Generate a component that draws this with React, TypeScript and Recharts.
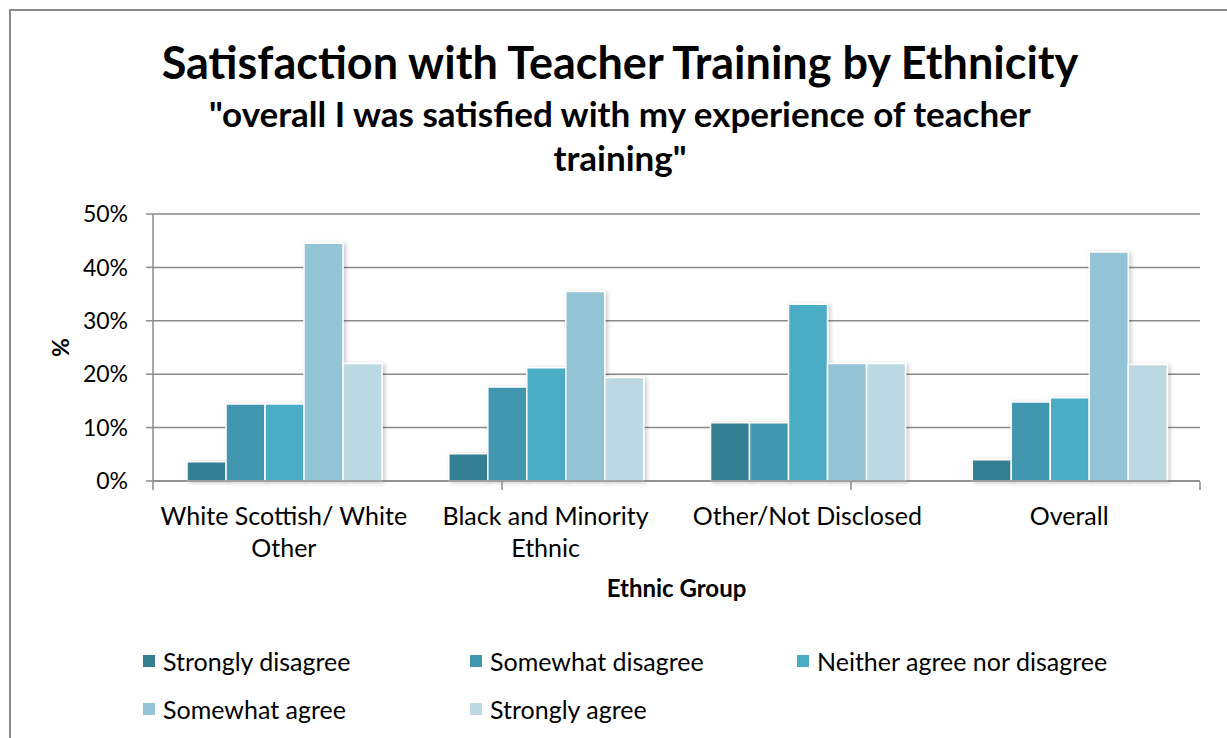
import { BarChart, Bar, XAxis, YAxis, CartesianGrid } from "recharts";

// categories and their wrapped tick lines
const categories = [
  "White Scottish/ White Other",
  "Black and Minority Ethnic",
  "Other/Not Disclosed",
  "Overall",
];
const categoryLines = [
  ["White Scottish/ White", "Other"],
  ["Black and Minority", "Ethnic"],
  ["Other/Not Disclosed"],
  ["Overall"],
];

// % of respondents per response
const stronglyDisagree = [3.6, 5.1, 10.9, 4.0];
const somewhatDisagree = [14.4, 17.6, 10.9, 14.8];
const neitherAgree = [14.4, 21.2, 33.1, 15.6];
const somewhatAgree = [44.5, 35.5, 22.0, 42.9];
const stronglyAgree = [22.0, 19.4, 22.0, 21.8];

const seriesNames = [
  "Strongly disagree",
  "Somewhat disagree",
  "Neither agree nor disagree",
  "Somewhat agree",
  "Strongly agree",
];
const seriesKeys = ["sd", "swd", "n", "swa", "sa"];
const seriesColors = ["#367f93", "#4297b0", "#4bacc6", "#93c4d5", "#bcd8e3"];

const yTicks = [0, 10, 20, 30, 40, 50];
const groupEdges = [0, 1, 2, 3, 4];

const FONT = "Lato, 'Open Sans', sans-serif";
const GREY = "#8a8a8a";

const data = categories.map((name, i) => ({
  name,
  sd: stronglyDisagree[i],
  swd: somewhatDisagree[i],
  n: neitherAgree[i],
  swa: somewhatAgree[i],
  sa: stronglyAgree[i],
}));

function CategoryTick(props: any) {
  const { x, y, index } = props;
  const lines = categoryLines[index] || [];
  return (
    <g>
      {lines.map((l, i) => (
        <text
          key={i}
          x={x}
          y={y + 36 + i * 32}
          textAnchor="middle"
          fontSize={25}
          fontFamily={FONT}
          fill="#000"
        >
          {l}
        </text>
      ))}
    </g>
  );
}

export default function App() {
  return (
    <div
      style={{
        position: "absolute",
        left: 0,
        top: 0,
        width: 1227,
        height: 738,
        overflow: "hidden",
        background: "#fff",
        fontFamily: FONT,
      }}
    >
      <div
        style={{
          position: "absolute",
          left: 9,
          top: 9,
          width: 1250,
          height: 760,
          border: `2px solid ${GREY}`,
        }}
      />
      <div
        style={{
          position: "absolute",
          left: 10,
          width: 1220,
          top: 37,
          textAlign: "center",
          fontWeight: 700,
          fontSize: 45,
          lineHeight: "50px",
          color: "#000",
        }}
      >
        Satisfaction with Teacher Training by Ethnicity
      </div>
      <div
        style={{
          position: "absolute",
          left: 10,
          width: 1220,
          top: 91,
          textAlign: "center",
          fontWeight: 700,
          fontSize: 35,
          lineHeight: "44px",
          color: "#000",
        }}
      >
        "overall I was satisfied with my experience of teacher
        <br />
        training"
      </div>

      <div style={{ position: "absolute", left: 0, top: 0 }}>
        <BarChart
          width={1227}
          height={738}
          data={data}
          margin={{ top: 214, right: 27, left: 33, bottom: 255 }}
          barCategoryGap="13%"
          barGap={0}
        >
          <defs>
            <filter id="barShadow" x="-20%" y="-20%" width="140%" height="140%">
              <feDropShadow dx="2" dy="1" stdDeviation="2" floodColor="#000" floodOpacity="0.22" />
            </filter>
          </defs>
          <CartesianGrid vertical={false} stroke={GREY} strokeWidth={1.5} />
          <XAxis
            dataKey="name"
            height={1}
            axisLine={{ stroke: GREY, strokeWidth: 1.5 }}
            tickLine={false}
            tick={<CategoryTick />}
            interval={0}
            label={{
              content: (p: any) => {
                const vb = p.viewBox || {};
                return (
                  <text
                    x={vb.x + vb.width / 2}
                    y={vb.y + 116}
                    textAnchor="middle"
                    fontSize={24}
                    fontWeight={700}
                    fontFamily={FONT}
                    fill="#000"
                  >
                    Ethnic Group
                  </text>
                );
              },
            }}
          />
          <XAxis
            xAxisId="edges"
            type="number"
            domain={[0, 4]}
            ticks={groupEdges}
            allowDataOverflow
            height={1}
            axisLine={false}
            tickFormatter={() => ""}
            tickSize={8}
            tickLine={{ stroke: GREY, strokeWidth: 1.5 }}
          />
          <YAxis
            width={120}
            domain={[0, 50]}
            ticks={yTicks}
            tickSize={7}
            tickMargin={18}
            axisLine={{ stroke: GREY, strokeWidth: 1.5 }}
            tickLine={{ stroke: GREY, strokeWidth: 1.5 }}
            tick={{ fill: "#000", fontSize: 23, fontFamily: FONT }}
            tickFormatter={(v: number) => `${v}%`}
            label={{
              content: (p: any) => {
                const vb = p.viewBox || {};
                const cx = vb.x + 27;
                const cy = vb.y + vb.height / 2;
                return (
                  <text
                    x={cx}
                    y={cy}
                    textAnchor="middle"
                    dominantBaseline="central"
                    transform={`rotate(-90 ${cx} ${cy})`}
                    fontSize={23}
                    fontWeight={700}
                    fontFamily={FONT}
                    fill="#000"
                  >
                    %
                  </text>
                );
              },
            }}
          />
          {seriesKeys.map((k, i) => (
            <Bar
              key={k}
              dataKey={k}
              name={seriesNames[i]}
              fill={seriesColors[i]}
              stroke="#fff"
              strokeWidth={1.5}
              filter="url(#barShadow)"
              isAnimationActive={false}
            />
          ))}
        </BarChart>
      </div>

      <div
        style={{
          position: "absolute",
          left: 143,
          top: 645,
          width: 1000,
          display: "grid",
          gridTemplateColumns: "327px 327px 327px",
          rowGap: 16,
          fontSize: 25,
          color: "#000",
        }}
      >
        {seriesNames.map((n, i) => (
          <div key={n} style={{ display: "flex", alignItems: "center", height: 32 }}>
            <span
              style={{
                display: "inline-block",
                width: 12,
                height: 12,
                background: seriesColors[i],
                marginRight: 8,
              }}
            />
            {n}
          </div>
        ))}
      </div>
    </div>
  );
}
